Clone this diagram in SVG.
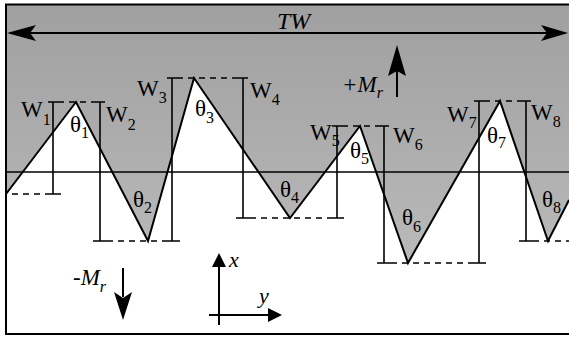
<svg xmlns="http://www.w3.org/2000/svg" width="569" height="339" viewBox="0 0 569 339">
<defs>
<linearGradient id="shade" x1="0" y1="0" x2="0" y2="1">
<stop offset="0" stop-color="#a0a0a0"/>
<stop offset="0.5" stop-color="#acacac"/>
<stop offset="1" stop-color="#bababa"/>
</linearGradient>
<style>
.ln{stroke:#000;stroke-width:2;fill:none}
.thin{stroke:#000;stroke-width:1.6;fill:none}
.dash{stroke:#000;stroke-width:1.6;stroke-dasharray:6 5;fill:none}
.t{font-family:"Liberation Serif","Times New Roman",serif;font-size:23px;fill:#000}
.ti{font-family:"Liberation Serif","Times New Roman",serif;font-style:italic;fill:#000}
.s{font-size:16px}
</style>
</defs>
<rect x="0" y="0" width="569" height="339" fill="#fff"/>
<g id="surface">
<polygon points="7,5 569,5 569,200 548,241 500,101 408,263 360,126 290,218 194,78 148,241 76,102 7,194" fill="url(#shade)"/>
<polyline class="ln" points="6,194 76,102 148,241 194,78 290,218 360,126 408,263 500,101 548,241 569,200"/>
</g>
<g id="frame">
<polyline class="ln" points="569,4.5 6,4.5 6,334 569,334"/>
<line class="thin" x1="6" y1="172" x2="569" y2="172"/>
</g>
<g id="connectors">
<line class="ln" x1="30" y1="33" x2="548" y2="33"/>
<path d="M7,33 L36,25 L30,33 L36,41 Z" fill="#000"/>
<path d="M568,33 L541,25 L547,33 L541,41 Z" fill="#000"/>
<line class="ln" x1="397" y1="97" x2="397" y2="70"/>
<path d="M397,45 L406,76 L397,71 L388,76 Z" fill="#000"/>
<line class="ln" x1="123" y1="268" x2="123" y2="297"/>
<path d="M123,320 L132,292 L123,298 L114,292 Z" fill="#000"/>
<line class="ln" x1="219" y1="325" x2="219" y2="264"/>
<path d="M219,253 L226,267 L212,267 Z" fill="#000"/>
<line class="ln" x1="209" y1="315" x2="270" y2="315"/>
<path d="M282,315 L268,308 L268,322 Z" fill="#000"/>
</g>
<g id="dims">
<path class="thin" d="M53,102V194M48,102H58M47,194H61"/>
<path class="thin" d="M100,102V241M95,102H105M93,241H107"/>
<path class="thin" d="M172,78V241M167,78H177M166,241H180"/>
<path class="thin" d="M243,78V218M238,78H248M236,218H250"/>
<path class="thin" d="M337,126V218M332,126H342M330,218H344"/>
<path class="thin" d="M384,126V263M379,126H389M377,263H391"/>
<path class="thin" d="M479,101V263M474,101H484M472,263H486"/>
<path class="thin" d="M526,101V241M521,101H531M519,241H533"/>
<path class="dash" d="M12,194H47M58,102H95M177,78H238M342,126H379M484,101H521M107,241H166M250,218H330M391,263H472M533,241H569"/>
</g>
<g id="labels">
<text class="ti" x="277" y="29" font-size="24">TW</text>
<text class="ti" x="342" y="92" font-size="23">+M<tspan class="s" dy="6">r</tspan></text>
<text class="ti" x="73" y="285" font-size="23">-M<tspan class="s" dy="7">r</tspan></text>
<text class="ti" x="229" y="267" font-size="22">x</text>
<text class="ti" x="259" y="303" font-size="22">y</text>
<text class="t" x="21" y="117">W<tspan class="s" dy="8">1</tspan></text>
<text class="t" x="106" y="122">W<tspan class="s" dy="8">2</tspan></text>
<text class="t" x="137" y="96">W<tspan class="s" dy="7">3</tspan></text>
<text class="t" x="250" y="98">W<tspan class="s" dy="7">4</tspan></text>
<text class="t" x="310" y="140">W<tspan class="s" dy="6">5</tspan></text>
<text class="t" x="393" y="143">W<tspan class="s" dy="7">6</tspan></text>
<text class="t" x="447" y="122">W<tspan class="s" dy="6">7</tspan></text>
<text class="t" x="531" y="120">W<tspan class="s" dy="7">8</tspan></text>
<text class="t" x="70" y="132">θ<tspan class="s" dy="6">1</tspan></text>
<text class="t" x="133" y="207">θ<tspan class="s" dy="6">2</tspan></text>
<text class="t" x="195" y="116">θ<tspan class="s" dy="7">3</tspan></text>
<text class="t" x="280" y="197">θ<tspan class="s" dy="6">4</tspan></text>
<text class="t" x="350" y="158">θ<tspan class="s" dy="6">5</tspan></text>
<text class="t" x="402" y="225">θ<tspan class="s" dy="7">6</tspan></text>
<text class="t" x="487" y="143">θ<tspan class="s" dy="5">7</tspan></text>
<text class="t" x="542" y="207">θ<tspan class="s" dy="6">8</tspan></text>
</g>
</svg>
